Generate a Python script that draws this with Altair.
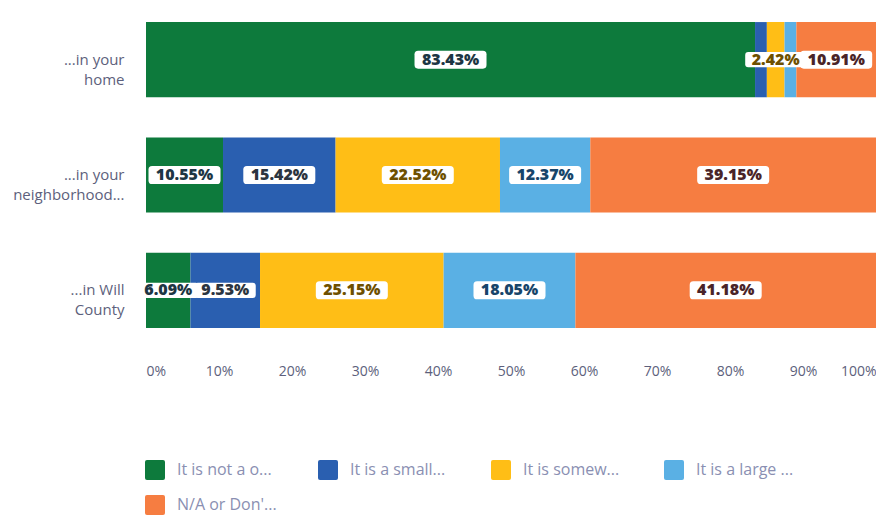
import json
import altair as alt
import pandas as pd

rows = ["...in your\nhome", "...in your\nneighborhood...", "...in Will\nCounty"]
categories = [
    "It is not a problem",
    "It is a small problem",
    "It is somewhat of a problem",
    "It is a large problem",
    "N/A or Don't know",
]
legend_labels = ["It is not a o...", "It is a small...", "It is somew...", "It is a large ...", "N/A or Don'..."]
not_a_problem = [83.43, 10.55, 6.09]
small_problem = [1.62, 15.42, 9.53]
somewhat_problem = [2.42, 22.52, 25.15]
large_problem = [1.62, 12.37, 18.05]
na_dont_know = [10.91, 39.15, 41.18]
x_ticks = [0, 10, 20, 30, 40, 50, 60, 70, 80, 90, 100]

series = [not_a_problem, small_problem, somewhat_problem, large_problem, na_dont_know]
bar_colors = ["#0d7a3c", "#2a5fb0", "#ffbe16", "#5ab0e4", "#f67d41"]
text_colors = ["#1d3644", "#2c3540", "#6e5000", "#17456a", "#4a2428"]

records = []
for ri, row in enumerate(rows):
    for ci, cat in enumerate(categories):
        records.append({"row": row, "cat": cat, "order": ci, "value": series[ci][ri]})
df = pd.DataFrame(records)

label_font = "Open Sans"
axis_color = "#5d5f7c"
legend_color = "#8a8fb2"

legend_expr = "{}[indexof({}, datum.label)]".format(json.dumps(legend_labels), json.dumps(categories))

base = alt.Chart(df).transform_stack(
    stack="value", groupby=["row"], as_=["x0", "x1"],
    sort=[alt.SortField("order", "ascending")],
).transform_calculate(
    mid="(datum.x0 + datum.x1) / 2",
    label="format(datum.value, '.2f') + '%'",
)

y_enc = alt.Y(
    "row:N", sort=rows,
    scale=alt.Scale(paddingInner=0.348, paddingOuter=0.07),
    axis=alt.Axis(
        title=None, domain=False, ticks=False, grid=False,
        labelFontSize=15, labelColor=axis_color, labelFont=label_font,
        labelPadding=22, labelExpr="split(datum.label, '\\n')",
        labelLineHeight=20, labelAlign="right", labelBaseline="middle",
        labelLimit=200,
    ),
)

rounded_sq = "M-0.8,-1 L0.8,-1 Q1,-1 1,-0.8 L1,0.8 Q1,1 0.8,1 L-0.8,1 Q-1,1 -1,0.8 L-1,-0.8 Q-1,-1 -0.8,-1 Z"

bars = base.mark_bar().encode(
    y=y_enc,
    x=alt.X(
        "x0:Q", scale=alt.Scale(domain=[0, 100], nice=False),
        axis=alt.Axis(
            title=None, values=x_ticks, domain=False, ticks=False, grid=False,
            labelExpr="datum.value + '%'", labelFontSize=14, labelColor=axis_color,
            labelFont=label_font, labelPadding=28,
        ),
    ),
    x2="x1:Q",
    color=alt.Color(
        "cat:N", scale=alt.Scale(domain=categories, range=bar_colors),
        legend=alt.Legend(
            title=None, orient="none", legendX=-1, legendY=446,
            direction="horizontal", columns=4, symbolType=rounded_sq,
            symbolSize=400, symbolStrokeWidth=0, symbolOpacity=1,
            labelFontSize=16, labelColor=legend_color, labelFont=label_font,
            labelOffset=12, columnPadding=41, rowPadding=15, gridAlign="all",
            labelExpr=legend_expr, labelLimit=200,
        ),
    ),
)

box_path = "M-0.9,-0.25 L0.9,-0.25 Q1,-0.25 1,-0.15 L1,0.15 Q1,0.25 0.9,0.25 L-0.9,0.25 Q-1,0.25 -1,0.15 L-1,-0.15 Q-1,-0.25 -0.9,-0.25 Z"

boxes = base.transform_filter("datum.value >= 2").transform_calculate(
    bw="pow(length(datum.label) * 11 + 6, 2)"
).mark_point(shape=box_path, filled=True, fill="white", opacity=1, strokeWidth=0).encode(
    x="mid:Q", y=alt.Y("row:N", sort=rows),
    size=alt.Size("bw:Q", scale=None, legend=None),
)

texts = base.transform_filter("datum.value >= 2").mark_text(
    fontSize=16, fontWeight=800, font=label_font
).encode(
    x="mid:Q", y=alt.Y("row:N", sort=rows),
    text="label:N",
    color=alt.Color("cat:N", scale=alt.Scale(domain=categories, range=text_colors), legend=None),
)

chart = alt.layer(bars, boxes, texts).resolve_scale(color="independent").properties(
    width=730, height=322,
    autosize=alt.AutoSizeParams(type="none"),
    padding={"left": 138, "top": 6, "right": 0, "bottom": 184},
).configure_view(stroke=None)

chart.save("out.html", embed_options={"renderer": "svg", "actions": False})
